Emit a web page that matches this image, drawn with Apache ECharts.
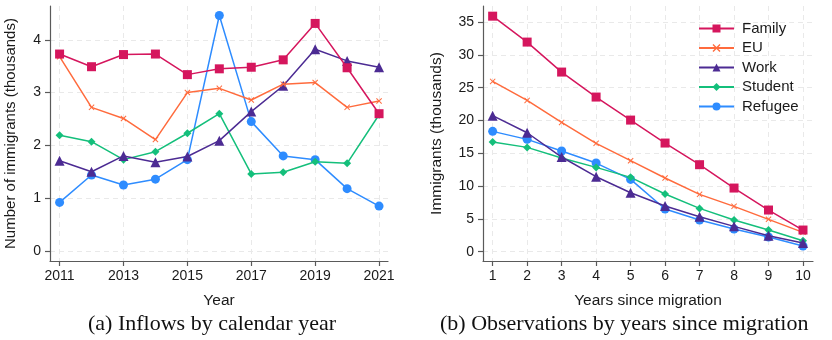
<!DOCTYPE html>
<html>
<head>
<meta charset="utf-8">
<script src="https://cdn.jsdelivr.net/npm/echarts@6/dist/echarts.min.js"></script>
<style>
html,body{margin:0;padding:0;background:#fff;}
#c{width:832px;height:340px;}
</style>
</head>
<body>
<div id="c"></div>
<script>
// ---- data ----
const seriesNames = ['Family', 'EU', 'Work', 'Student', 'Refugee'];
const years = [2011, 2012, 2013, 2014, 2015, 2016, 2017, 2018, 2019, 2020, 2021];
const yearTicks = [2011, 2013, 2015, 2017, 2019, 2021];
const leftYTicks = [0, 1, 2, 3, 4];
const familyByYear  = [3.73, 3.49, 3.72, 3.73, 3.34, 3.45, 3.48, 3.62, 4.31, 3.47, 2.60];
const euByYear      = [3.68, 2.72, 2.51, 2.11, 3.00, 3.08, 2.86, 3.16, 3.19, 2.72, 2.84];
const workByYear    = [1.71, 1.50, 1.80, 1.68, 1.79, 2.09, 2.64, 3.13, 3.82, 3.60, 3.48];
const studentByYear = [2.19, 2.07, 1.73, 1.88, 2.23, 2.60, 1.46, 1.49, 1.69, 1.66, 2.58];
const refugeeByYear = [0.92, 1.44, 1.25, 1.36, 1.73, 4.46, 2.45, 1.80, 1.73, 1.18, 0.85];

const yearsSince = [1, 2, 3, 4, 5, 6, 7, 8, 9, 10];
const rightYTicks = [0, 5, 10, 15, 20, 25, 30, 35];
const familyBySince  = [35.9, 31.95, 27.38, 23.57, 20.06, 16.56, 13.26, 9.70, 6.35, 3.30];
const euBySince      = [25.96, 23.06, 19.71, 16.51, 13.87, 11.23, 8.74, 6.91, 4.93, 2.95];
const workBySince    = [20.73, 18.13, 14.43, 11.43, 8.99, 6.96, 5.33, 3.86, 2.44, 1.32];
const studentBySince = [16.71, 15.90, 14.27, 12.85, 11.33, 8.79, 6.60, 4.83, 3.30, 1.68];
const refugeeBySince = [18.34, 17.12, 15.34, 13.51, 11.02, 6.50, 4.83, 3.45, 2.24, 0.86];

const captionA = '(a) Inflows by calendar year';
const captionB = '(b) Observations by years since migration';

// ---- styles ----
const colors = ['#d5165d', '#ff6b3d', '#4c2b93', '#14bf7b', '#2e8cff'];
const xMark = 'path://M0,1.2 L1.2,0 L5,3.8 L8.8,0 L10,1.2 L6.2,5 L10,8.8 L8.8,10 L5,6.2 L1.2,10 L0,8.8 L3.8,5 Z';
const symbols = ['rect', xMark, 'triangle', 'diamond', 'circle'];
const symbolSizes = [9, 6, 10, 8, 9];
const FONT = '"Liberation Sans", Arial, sans-serif';

const byYear = [familyByYear, euByYear, workByYear, studentByYear, refugeeByYear];
const bySince = [familyBySince, euBySince, workBySince, studentBySince, refugeeBySince];

function axisCommon() {
  return {
    axisLine: { show: true, onZero: false, lineStyle: { color: '#5a5a5a', width: 1.2 } },
    axisTick: { show: true, length: 5, lineStyle: { color: '#5a5a5a', width: 1.2 } },
    axisLabel: { color: '#1a1a1a', fontSize: 14, fontFamily: FONT, formatter: (v) => String(v) },
    splitLine: { show: true, lineStyle: { color: '#e9e9e9', type: [5, 4], width: 1 } },
    nameTextStyle: { color: '#1a1a1a', fontSize: 15.5, fontFamily: FONT }
  };
}

function mk(extra) {
  const a = axisCommon();
  const o = Object.assign({}, a, extra);
  o.axisTick = Object.assign({}, a.axisTick, extra.axisTick || {});
  o.axisLabel = Object.assign({}, a.axisLabel, extra.axisLabel || {});
  o.nameTextStyle = Object.assign({}, a.nameTextStyle, extra.nameTextStyle || {});
  return o;
}

const series = [];
seriesNames.forEach((n, i) => {
  series.push({
    name: n, type: 'line', xAxisIndex: 0, yAxisIndex: 0,
    data: years.map((y, k) => [y, byYear[i][k]]),
    symbol: symbols[i], symbolSize: symbolSizes[i],
    itemStyle: { color: colors[i] }, lineStyle: { color: colors[i], width: 1.5 },
    z: 10 - i
  });
});
seriesNames.forEach((n, i) => {
  series.push({
    name: n, type: 'line', xAxisIndex: 1, yAxisIndex: 1,
    data: yearsSince.map((y, k) => [y, bySince[i][k]]),
    symbol: symbols[i], symbolSize: symbolSizes[i],
    itemStyle: { color: colors[i] }, lineStyle: { color: colors[i], width: 1.5 },
    z: 10 - i
  });
});

const chart = echarts.init(document.getElementById('c'), null, { renderer: 'canvas' });
chart.setOption({
  animation: false,
  backgroundColor: '#fff',
  grid: [
    { left: 50, top: 6, width: 338, height: 255, containLabel: false },
    { left: 483, top: 6, width: 330, height: 255, containLabel: false }
  ],
  xAxis: [
    mk({ type: 'value', gridIndex: 0, min: 2010.7, max: 2021.28,
      axisTick: { customValues: yearTicks }, axisLabel: { customValues: yearTicks, margin: 8 },
      name: 'Year', nameLocation: 'middle', nameGap: 32 }),
    mk({ type: 'value', gridIndex: 1, min: 0.72, max: 10.29,
      axisTick: { customValues: yearsSince }, axisLabel: { customValues: yearsSince, margin: 8 },
      name: 'Years since migration', nameLocation: 'middle', nameGap: 32 })
  ],
  yAxis: [
    mk({ type: 'value', gridIndex: 0, min: -0.19, max: 4.64,
      axisTick: { customValues: leftYTicks }, axisLabel: { customValues: leftYTicks, margin: 9 },
      name: 'Number of immigrants (thousands)', nameLocation: 'middle', nameGap: 32,
      nameTextStyle: { fontSize: 15 } }),
    mk({ type: 'value', gridIndex: 1, min: -1.42, max: 37.45,
      axisTick: { customValues: rightYTicks }, axisLabel: { customValues: rightYTicks, margin: 9 },
      name: 'Immigrants (thousands)', nameLocation: 'middle', nameGap: 38 })
  ],
  legend: {
    data: seriesNames,
    orient: 'vertical',
    left: 693, top: 16,
    itemWidth: 35, itemHeight: 10, itemGap: 4.5,
    textStyle: { color: '#1a1a1a', fontSize: 15, fontFamily: FONT, padding: [0, 0, 0, 3] },
    selectedMode: false
  },
  graphic: [
    { type: 'text', left: 88, top: 313, style: { text: captionA, font: '22px "Liberation Serif", "Times New Roman", serif', fill: '#111' } },
    { type: 'text', left: 440, top: 313, style: { text: captionB, font: '22px "Liberation Serif", "Times New Roman", serif', fill: '#111' } }
  ],
  series: series
});
</script>
</body>
</html>
